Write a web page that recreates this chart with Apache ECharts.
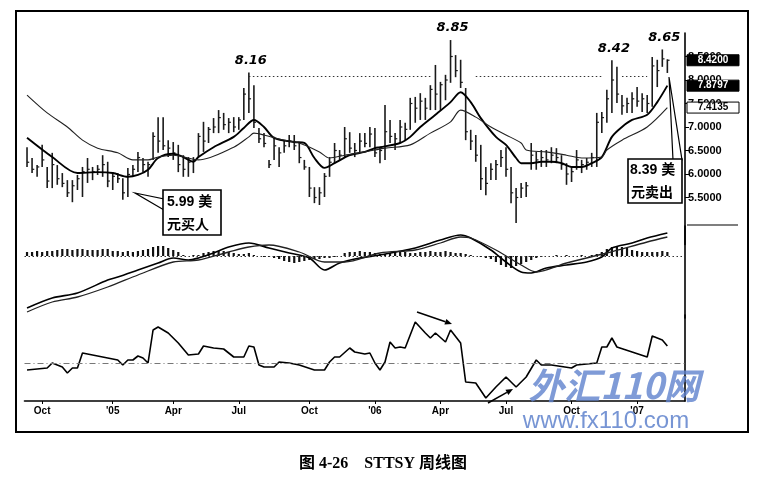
<!DOCTYPE html>
<html><head><meta charset="utf-8">
<script src="https://cdn.jsdelivr.net/npm/echarts@6.0.0/dist/echarts.min.js"></script>
<style>html,body{margin:0;padding:0;background:#fff}#c{width:761px;height:482px}</style>
</head><body><div id="c"></div>
<script>
// ---------- data ----------
const weeks = [
'2004-09-10','2004-09-17','2004-09-24','2004-10-01','2004-10-08','2004-10-15','2004-10-22','2004-10-29','2004-11-05','2004-11-12','2004-11-19','2004-11-26','2004-12-03','2004-12-10','2004-12-17','2004-12-24','2004-12-31',
'2005-01-07','2005-01-14','2005-01-21','2005-01-28','2005-02-04','2005-02-11','2005-02-18','2005-02-25','2005-03-04','2005-03-11','2005-03-18','2005-03-25',
'2005-04-01','2005-04-08','2005-04-15','2005-04-22','2005-04-29','2005-05-06','2005-05-13','2005-05-20','2005-05-27','2005-06-03','2005-06-10','2005-06-17','2005-06-24',
'2005-07-01','2005-07-08','2005-07-15','2005-07-22','2005-07-29','2005-08-05','2005-08-12','2005-08-19','2005-08-26','2005-09-02','2005-09-09','2005-09-16','2005-09-23','2005-09-30',
'2005-10-07','2005-10-14','2005-10-21','2005-10-28','2005-11-04','2005-11-11','2005-11-18','2005-11-25','2005-12-02','2005-12-09','2005-12-16','2005-12-23','2005-12-30',
'2006-01-06','2006-01-13','2006-01-20','2006-01-27','2006-02-03','2006-02-10','2006-02-17','2006-02-24','2006-03-03','2006-03-10','2006-03-17','2006-03-24','2006-03-31',
'2006-04-07','2006-04-14','2006-04-21','2006-04-28','2006-05-05','2006-05-12','2006-05-19','2006-05-26','2006-06-02','2006-06-09','2006-06-16','2006-06-23','2006-06-30',
'2006-07-07','2006-07-14','2006-07-21','2006-07-28','2006-08-04','2006-08-11','2006-08-18','2006-08-25','2006-09-01','2006-09-08','2006-09-15','2006-09-22','2006-09-29',
'2006-10-06','2006-10-13','2006-10-20','2006-10-27','2006-11-03','2006-11-10','2006-11-17','2006-11-24','2006-12-01','2006-12-08','2006-12-15','2006-12-22','2006-12-29',
'2007-01-05','2007-01-12','2007-01-19','2007-01-26','2007-02-02','2007-02-09','2007-02-16','2007-02-23','2007-03-02','2007-03-09'];

const highs = [6.57,6.34,6.19,6.62,6.15,6.45,6.19,6.02,5.87,5.87, 5.98,6.15,6.34,6.15,6.19,6.40,6.26,6.04,6.02,5.91,
 6.13,6.19,6.47,6.34,6.26,6.89,7.21,7.21,6.72,6.68, 6.62,6.40,6.36,6.36,6.87,7.11,7.00,7.19,7.36,7.30,
 7.19,7.21,7.21,7.83,8.16,7.89,6.98,6.87,6.30,6.79, 6.57,6.72,6.83,6.83,6.66,6.30,6.15,5.72,5.72,6.02,
 6.36,6.66,6.51,7.00,6.89,6.66,6.87,6.87,7.00,6.98, 6.57,7.47,7.15,6.87,7.15,7.09,7.62,7.64,7.72,7.62,
 7.89,8.32,7.96,8.11,8.85,8.53,8.43,7.83,6.94,6.83, 6.62,6.15,6.23,6.30,6.51,6.57,6.15,5.70,5.81,5.83,
 6.66,6.47,6.51,6.51,6.57,6.55,6.40,6.23,6.15,6.51, 6.30,6.34,6.45,7.30,7.32,7.79,8.42,8.28,7.68,7.62,
 7.74,7.85,7.72,7.68,8.49,8.43,8.65,8.44];
const lows = [6.15,6.02,5.94,6.15,5.70,5.70,5.77,5.72,5.51,5.40, 5.66,5.51,5.81,5.87,5.98,5.94,5.72,5.66,5.81,5.45,
 5.51,5.94,6.04,6.04,5.94,6.30,6.45,6.51,6.36,6.30, 6.04,5.94,5.94,6.02,6.36,6.47,6.66,6.87,6.87,6.94,
 6.87,6.89,6.94,7.15,7.30,6.98,6.66,6.57,6.13,6.30, 6.15,6.45,6.57,6.51,6.23,6.09,5.51,5.38,5.34,5.51,
 5.94,6.23,6.30,6.36,6.45,6.36,6.45,6.57,6.57,6.36, 6.23,6.30,6.66,6.51,6.66,6.72,6.94,7.09,7.15,7.15,
 7.36,7.36,7.36,7.57,7.94,8.06,7.83,6.72,6.51,6.26, 5.66,5.55,5.87,5.87,6.15,5.94,5.38,4.96,5.49,5.51,
 6.09,6.09,6.15,6.15,6.23,6.23,6.09,5.77,5.83,6.09, 6.02,6.09,6.15,6.15,6.87,7.09,7.30,7.51,7.26,7.30,
 7.30,7.43,7.32,7.30,7.43,7.85,8.28,8.15];
const closes = [6.25,6.10,6.15,6.30,5.85,6.20,5.90,5.80,5.60,5.75, 5.90,6.05,6.10,6.05,6.10,6.20,5.85,5.95,5.90,5.60,
 5.99,6.10,6.35,6.20,6.20,6.80,6.70,6.60,6.55,6.45, 6.20,6.10,6.25,6.30,6.80,6.70,6.95,7.00,7.20,7.05,
 7.10,7.00,7.15,7.70,7.60,7.10,6.75,6.65,6.20,6.60, 6.45,6.60,6.70,6.60,6.35,6.15,5.70,5.50,5.60,5.95,
 6.25,6.50,6.40,6.75,6.55,6.50,6.70,6.65,6.85,6.45, 6.50,6.90,6.80,6.75,7.00,6.95,7.50,7.40,7.55,7.40,
 7.80,7.70,7.90,8.00,8.50,8.20,7.95,6.90,6.70,6.40, 5.90,5.80,6.10,6.20,6.35,6.10,5.60,5.50,5.70,5.75,
 6.40,6.30,6.35,6.30,6.40,6.35,6.20,6.00,6.05,6.30, 6.20,6.25,6.35,7.10,7.20,7.60,8.00,7.70,7.45,7.50,
 7.60,7.55,7.60,7.50,8.30,8.20,8.45,8.42];

// moving averages read at points [week index, value]
const fastMA = [[0,6.77],[5,6.36],[10,6.02],[14,6.04],[17,6.02],[20,5.94],[22,5.98],[24,6.09],[26,6.34],[29,6.43],[31,6.36],[33,6.26],[34,6.36],[37,6.57],[41,6.79],[43,6.98],[45,7.15],[47,7.00],[49,6.77],[53,6.68],[55,6.66],[57,6.34],[59,6.13],[61,6.23],[64,6.40],[67,6.47],[69,6.55],[70,6.57],[74,6.66],[76,6.79],[78,7.00],[81,7.26],[84,7.53],[86,7.74],[88,7.53],[90,7.19],[93,6.79],[95,6.62],[97,6.34],[98,6.23],[100,6.23],[102,6.26],[104,6.26],[106,6.23],[108,6.15],[110,6.15],[112,6.23],[114,6.36],[116,6.79],[118,7.00],[120,7.15],[123,7.26],[125,7.53],[127,7.88]];
const slowMA = [[0,7.68],[4,7.30],[8,7.00],[11,6.72],[14,6.55],[18,6.45],[21,6.30],[24,6.30],[26,6.36],[29,6.40],[34,6.30],[41,6.57],[44,6.79],[45,6.87],[47,6.83],[51,6.72],[54,6.66],[58,6.47],[60,6.34],[63,6.40],[67,6.47],[71,6.55],[76,6.62],[80,6.87],[84,7.11],[86,7.36],[89,7.21],[92,7.00],[95,6.83],[98,6.66],[99,6.51],[103,6.47],[107,6.40],[110,6.34],[114,6.36],[115,6.51],[118,6.72],[123,7.00],[127,7.41]];

const macdLine = [[0,-0.52],[5,-0.42],[10,-0.37],[16,-0.24],[18,-0.21],[22,-0.14],[26,-0.07],[29,-0.02],[32,-0.04],[34,-0.02],[37,0.03],[40,0.09],[44,0.13],[48,0.08],[52,0.03],[56,-0.02],[59,-0.14],[62,-0.07],[66,-0.02],[70,0.01],[77,0.08],[82,0.16],[86,0.21],[88,0.18],[92,0.06],[95,-0.06],[98,-0.16],[100,-0.17],[103,-0.12],[107,-0.09],[111,-0.06],[114,-0.01],[116,0.08],[120,0.13],[123,0.18],[127,0.23]];
const signalLine = [[0,-0.56],[5,-0.46],[10,-0.41],[16,-0.31],[22,-0.19],[29,-0.06],[34,-0.04],[40,0.04],[44,0.09],[48,0.11],[54,0.04],[59,-0.06],[63,-0.06],[70,0.03],[77,0.06],[82,0.13],[86,0.19],[88,0.18],[93,0.06],[98,-0.09],[101,-0.16],[107,-0.07],[115,0.03],[123,0.14],[127,0.19]];
const macdHist = [0.04,0.04,0.05,0.04,0.05,0.05, 0.06,0.07,0.07,0.06,0.07,0.07,0.06, 0.06,0.06,0.07,0.07,0.05,0.05,0.04,
 0.05,0.04,0.05,0.06,0.07, 0.09,0.10,0.10,0.08,0.06,0.04, 0.01,0.00,0.01,0.01,
 0.03,0.04,0.05,0.05,0.05,0.04,0.03,0.02,0.02,0.03, 0.01,0.00,-0.01,-0.01,-0.02,
 -0.03,-0.05,-0.06,-0.07,-0.06,-0.05,-0.04,-0.03, -0.03,-0.02,-0.02,-0.01,0.00,
 0.03,0.04,0.04,0.05,0.04,0.04,0.03, 0.02,0.02,0.03,0.04,0.04,0.04,0.03,0.03,0.04,
 0.04,0.05,0.04,0.04,0.05,0.04,0.03,0.03,0.02,0.01, 0.00,-0.01,-0.02,-0.03,
 -0.06,-0.09,-0.11,-0.12,-0.10,-0.08,-0.06,-0.04, -0.02,-0.01,0.00,
 0.00,0.01,0.00,0.01,0.00,0.00,0.01,0.00,0.01,0.02, 0.04,0.07,0.09,0.10,0.09,0.08,0.06,0.05,
 0.04,0.04,0.04,0.04,0.05,0.04];
const momentum = [[0,-3.5],[2,-3],[4,-2.5],[5,0],[7,-2],[8,-5],[9,-2.5],[10,-2.5],[11,5],[13,4],[16,2.5],[18,1.5],[19,-1],[20,1.5],[21,1.5],[22,3.5],[23,2.5],[24,0],[25,16.5],[26,18],[28,15],[30,10],[32,4],[34,4.5],[35,8.5],[37,7.5],[39,7],[41,3],[43,3],[44,8.5],[45,8],[46,-1],[47,-2],[49,-2],[50,0.5],[52,0],[54,-1],[57,-3.5],[59,-3.5],[60,0.5],[61,3],[62,3],[64,7.5],[65,5.5],[67,4.5],[68,5],[69,0],[70,-3.5],[71,0.5],[72,10.5],[73,7.5],[74,8],[75,7.5],[77,20.5],[79,15],[80,12.5],[81,15],[83,10.5],[84,16.5],[86,10],[87,-9.5],[89,-10],[91,-17.5],[93,-12],[95,-7],[97,-12],[99,-7],[101,1.5],[102,-1],[104,-1],[108,-2.5],[109,-1],[113,0],[114,8],[115,8],[116,12.5],[117,8],[120,5.5],[123,3],[124,13.5],[126,11.5],[127,8.5]];

const priceTicks = [5.5,6.0,6.5,7.0,7.5,8.0,8.5];
const peaks = [[44,8.16,'8.16'],[84,8.85,'8.85'],[116,8.42,'8.42'],[126,8.65,'8.65']];
const resistance = 8.07;
const resistanceSpans = [[44,80],[89,114],[118,123]];
const lastValues = [['8.4200',8.42,'dark'],['7.8797',7.8797,'dark'],['7.4135',7.4135,'light']];
const quarterNames = {1:null,4:'Apr',7:'Jul',10:'Oct'};
const buyText = ['5.99 美','元买人'];
const sellText = ['8.39 美','元卖出'];
const caption = '图 4-26　STTSY 周线图';

// ---------- chart ----------
function isQuarterStart(i){
  const m = +weeks[i].slice(5,7);
  if (!(m in quarterNames)) return false;
  return i === 0 || +weeks[i-1].slice(5,7) !== m;
}
const bars = highs.map((h,i)=>[i,h,lows[i],closes[i]]);
const G = {left:24.5, width:660.5, containLabel:false, outerBoundsMode:'none'};
const chart = echarts.init(document.getElementById('c'), null, {renderer:'canvas'});
const axisFont = {fontFamily:'Liberation Sans, Arial, sans-serif', fontWeight:'bold', color:'#000'};

chart.setOption({
  animation:false,
  backgroundColor:'#fff',
  grid:[
    Object.assign({top:33, height:211.5}, G),
    Object.assign({top:226, height:92}, G),
    Object.assign({top:315, height:86}, G)
  ],
  xAxis:[
    {type:'category', data:weeks, gridIndex:0, show:false},
    {type:'category', data:weeks, gridIndex:1, show:false},
    {type:'category', data:weeks, gridIndex:2,
     axisLine:{show:true, onZero:false, lineStyle:{color:'#000', width:1.6}},
     axisTick:{show:true, interval:(i)=>isQuarterStart(i), alignWithLabel:true, length:3, lineStyle:{color:'#000'}},
     axisLabel:Object.assign({fontSize:10, margin:5, interval:(i)=>isQuarterStart(i),
       formatter:(v)=>{const m=+v.slice(5,7); return m===1 ? "'"+v.slice(2,4) : quarterNames[m];}}, axisFont),
     splitLine:{show:false}}
  ],
  yAxis:[
    {type:'value', gridIndex:0, position:'right', min:4.5, max:9, interval:0.5,
     axisLine:{show:true, lineStyle:{color:'#000', width:1.6}},
     axisTick:{show:true, length:4, inside:false, customValues:priceTicks, lineStyle:{color:'#000'}},
     axisLabel:Object.assign({fontSize:11, margin:3, customValues:priceTicks, formatter:(v)=> (v>=5.5 && v<=8.5) ? (+v).toFixed(4) : ''}, axisFont),
     splitLine:{show:false}},
    {type:'value', gridIndex:1, position:'right', min:-0.62, max:0.30,
     axisLine:{show:true, lineStyle:{color:'#000', width:1.6}}, axisTick:{show:false}, axisLabel:{show:false}, splitLine:{show:false}},
    {type:'value', gridIndex:2, position:'right', min:-19, max:24,
     axisLine:{show:true, lineStyle:{color:'#000', width:1.6}}, axisTick:{show:false}, axisLabel:{show:false}, splitLine:{show:false}}
  ],
  series:[
    {type:'custom', xAxisIndex:0, yAxisIndex:0, data:bars, encode:{x:0, y:[1,2,3]}, z:3,
     renderItem:(params, api)=>{
       const x = api.value(0);
       const hi = api.coord([x, api.value(1)]);
       const lo = api.coord([x, api.value(2)]);
       const cl = api.coord([x, api.value(3)]);
       return {type:'group', children:[
         {type:'line', shape:{x1:hi[0], y1:hi[1], x2:lo[0], y2:lo[1]}, style:{stroke:'#1a1a1a', lineWidth:1.6}},
         {type:'line', shape:{x1:cl[0], y1:cl[1], x2:cl[0]+2.2, y2:cl[1]}, style:{stroke:'#1a1a1a', lineWidth:1.2}}
       ]};
     }},
    {type:'line', xAxisIndex:0, yAxisIndex:0, data:fastMA, symbol:'none', smooth:0.3, z:4,
     lineStyle:{color:'#000', width:1.9}},
    {type:'line', xAxisIndex:0, yAxisIndex:0, data:slowMA, symbol:'none', smooth:0.3, z:4,
     lineStyle:{color:'#222', width:1.1},
     markLine:{silent:true, symbol:'none', label:{show:false},
       lineStyle:{color:'#333', type:[1.5,2.5], width:1},
       data: resistanceSpans.map(s=>[{coord:[s[0],resistance]},{coord:[s[1],resistance]}])}},
    {type:'bar', xAxisIndex:1, yAxisIndex:1, data:macdHist, barWidth:2.2, itemStyle:{color:'#111'},
     markLine:{silent:true, symbol:'none', label:{show:false}, lineStyle:{color:'#333', type:[1.5,2.5], width:1.2}, data:[{yAxis:0}]}},
    {type:'line', xAxisIndex:1, yAxisIndex:1, data:macdLine, symbol:'none', smooth:0.3, lineStyle:{color:'#000', width:1.6}},
    {type:'line', xAxisIndex:1, yAxisIndex:1, data:signalLine, symbol:'none', smooth:0.3, lineStyle:{color:'#222', width:1.3}},
    {type:'line', xAxisIndex:2, yAxisIndex:2, data:momentum, symbol:'none', lineStyle:{color:'#000', width:1.6},
     markLine:{silent:true, symbol:'none', label:{show:false}, lineStyle:{color:'#777', type:[6,3,1,3], width:1}, data:[{yAxis:0}]}}
  ]
});

// ---------- annotations ----------
const px = (i,v)=>chart.convertToPixel({xAxisIndex:0, yAxisIndex:0},[i,v]);
const g = [];
g.push({type:'rect', shape:{x:16, y:11, width:732, height:421}, style:{fill:'none', stroke:'#000', lineWidth:2}, z:50});
peaks.forEach(p=>{
  const q = px(p[0],p[1]);
  g.push({type:'text', x:q[0]+2, y:q[1]-12, style:{text:p[2], fill:'#000', font:'italic bold 13px "DejaVu Sans", sans-serif', align:'center', verticalAlign:'middle'}, z:60});
});
lastValues.forEach(v=>{
  const y = px(0,v[1])[1];
  const dark = v[2]==='dark';
  g.push({type:'rect', shape:{x:687, y:y-5.5, width:52, height:11}, style:{fill:dark?'#000':'#fff', stroke:'#000', lineWidth:1}, z:60});
  g.push({type:'text', x:713, y:y, style:{text:v[0], fill:dark?'#fff':'#000', font:'bold 10px "Liberation Sans", Arial, sans-serif', align:'center', verticalAlign:'middle'}, z:61});
});
g.push({type:'line', shape:{x1:687, y1:225, x2:738, y2:225}, style:{stroke:'#000', lineWidth:1.2}, z:60});
// buy callout
g.push({type:'polygon', shape:{points:[[135,193],[164,199],[164,210]]}, style:{fill:'#fff', stroke:'#000', lineWidth:1.2}, z:61});
g.push({type:'rect', shape:{x:163, y:190, width:58, height:45}, style:{fill:'#fff', stroke:'#000', lineWidth:1.6}, z:62});
g.push({type:'text', x:167, y:202, style:{text:buyText[0], fill:'#000', font:'bold 14px "Liberation Sans", "Noto Sans CJK SC", sans-serif', verticalAlign:'middle'}, z:63});
g.push({type:'text', x:167, y:224, style:{text:buyText[1], fill:'#000', font:'bold 14px "Noto Sans CJK SC", sans-serif', verticalAlign:'middle'}, z:63});
// sell callout
g.push({type:'polygon', shape:{points:[[669,77],[673,160],[682,160]]}, style:{fill:'#fff', stroke:'#000', lineWidth:1.2}, z:61});
g.push({type:'rect', shape:{x:628, y:159, width:54, height:44}, style:{fill:'#fff', stroke:'#000', lineWidth:1.6}, z:62});
g.push({type:'text', x:630, y:170, style:{text:sellText[0], fill:'#000', font:'bold 14px "Liberation Sans", "Noto Sans CJK SC", sans-serif', verticalAlign:'middle'}, z:63});
g.push({type:'text', x:631, y:192, style:{text:sellText[1], fill:'#000', font:'bold 14px "Noto Sans CJK SC", sans-serif', verticalAlign:'middle'}, z:63});
// arrows in lower panel
function arrow(x1,y1,x2,y2){
  const a = Math.atan2(y2-y1,x2-x1), L=7, W=3;
  const bx = x2 - L*Math.cos(a), by = y2 - L*Math.sin(a);
  g.push({type:'line', shape:{x1, y1, x2:bx, y2:by}, style:{stroke:'#000', lineWidth:1.5}, z:60});
  g.push({type:'polygon', shape:{points:[[x2,y2],[bx+W*Math.sin(a), by-W*Math.cos(a)],[bx-W*Math.sin(a), by+W*Math.cos(a)]]}, style:{fill:'#000'}, z:60});
}
arrow(417,312,452,324);
arrow(488,403,513,389);
// caption
g.push({type:'text', x:383, y:464, style:{text:caption, fill:'#000', font:'bold 16px "Liberation Serif", "Noto Sans CJK SC", serif', align:'center', verticalAlign:'middle'}, z:60});
// watermark
g.push({type:'text', x:614, y:385, style:{text:'外汇110网', fill:'rgba(95,130,205,0.8)', font:'italic bold 36px "Noto Sans CJK SC", sans-serif', align:'center', verticalAlign:'middle'}, z:70});
g.push({type:'text', x:606, y:421, style:{text:'www.fx110.com', fill:'rgba(95,130,205,0.85)', font:'24px "Liberation Sans", Arial, sans-serif', align:'center', verticalAlign:'middle'}, z:70});
chart.setOption({graphic:g});
</script></body></html>
